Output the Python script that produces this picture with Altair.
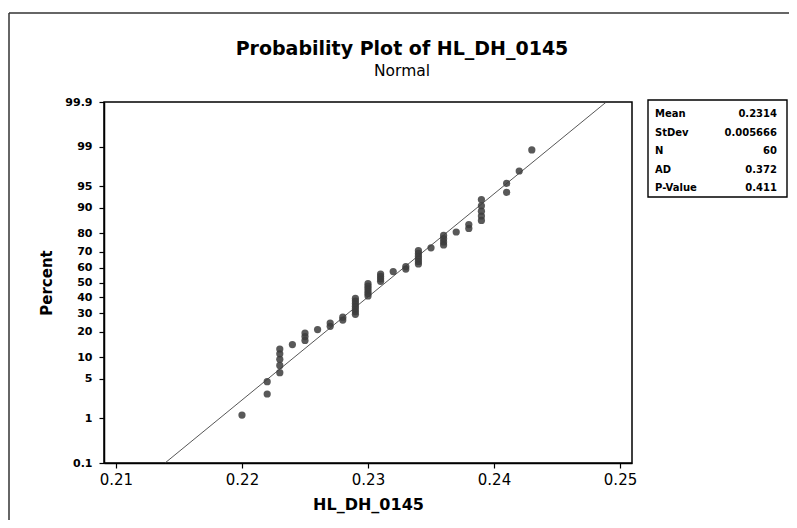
import altair as alt
import pandas as pd
from statistics import NormalDist

# Observed values of HL_DH_0145 (60 readings, sorted)
values = (
    [0.220]
    + [0.222] * 2
    + [0.223] * 5
    + [0.224]
    + [0.225] * 3
    + [0.226]
    + [0.227] * 2
    + [0.228] * 2
    + [0.229] * 7
    + [0.230] * 6
    + [0.231] * 4
    + [0.232]
    + [0.233] * 2
    + [0.234] * 6
    + [0.235]
    + [0.236] * 4
    + [0.237]
    + [0.238] * 2
    + [0.239] * 5
    + [0.241] * 2
    + [0.242]
    + [0.243]
)

MEAN = 0.2314
STDEV = 0.005666

TITLE = "Probability Plot of HL_DH_0145"
SUBTITLE = "Normal"

stat_labels = ["Mean", "StDev", "N", "AD", "P-Value"]
stat_values = ["0.2314", "0.005666", "60", "0.372", "0.411"]

y_tick_percents = [0.1, 1, 5, 10, 20, 30, 40, 50, 60, 70, 80, 90, 95, 99, 99.9]
x_ticks = [0.21, 0.22, 0.23, 0.24, 0.25]
line_percents = [0.1, 99.9]
x_domain = [0.20905, 0.25095]

nd = NormalDist()
z_ticks = [nd.inv_cdf(p / 100) for p in y_tick_percents]
z_domain = [min(z_ticks) - 1e-9, max(z_ticks) + 1e-9]

FONT = "DejaVu Sans"

xscale = alt.Scale(domain=x_domain, nice=False, zero=False)
yscale = alt.Scale(domain=z_domain, nice=False, zero=False)

x_axis = alt.Axis(
    values=x_ticks, tickCount=10, labelExpr="format(datum.value, '~g')",
    title="HL_DH_0145", titleFontSize=16, titleFontWeight="bold",
    titlePadding=9, labelFontSize=15, labelPadding=4, tickSize=5,
    grid=False, labelOverlap=False,
)
y_axis = alt.Axis(
    values=z_ticks, tickCount=30,
    labelExpr="format(round(cumulativeNormal(datum.value)*1000)/10, '~g')",
    title="Percent", titleFontSize=15, titleFontWeight="bold",
    titlePadding=10, labelFontSize=11, labelFontWeight="bold",
    labelPadding=7, tickSize=5, grid=False, labelOverlap=False,
)

pts = (
    alt.Chart(pd.DataFrame({"v": values}))
    .transform_window(rank="row_number()", sort=[alt.SortField("v")])
    .transform_joinaggregate(n="count()")
    .transform_calculate(
        p="(datum.rank - 0.3) / (datum.n + 0.4)",
        z="quantileNormal(datum.p)",
    )
    .mark_circle(size=52, color="#3c3c3c", opacity=0.85)
    .encode(
        x=alt.X("v:Q", scale=xscale, axis=x_axis),
        y=alt.Y("z:Q", scale=yscale, axis=y_axis),
    )
)

fit = (
    alt.Chart(pd.DataFrame({"pct": line_percents}))
    .transform_calculate(
        z="quantileNormal(datum.pct / 100)",
        v=f"{MEAN} + {STDEV} * quantileNormal(datum.pct / 100)",
    )
    .mark_line(color="#444444", strokeWidth=0.9)
    .encode(x=alt.X("v:Q", scale=xscale), y=alt.Y("z:Q", scale=yscale))
)

one = pd.DataFrame({"a": [0]})

title_mark = alt.Chart(one).mark_text(
    fontSize=19, fontWeight="bold", font=FONT, color="black", baseline="middle", align="center"
).encode(x=alt.value(298), y=alt.value(-53), text=alt.value(TITLE))
subtitle_mark = alt.Chart(one).mark_text(
    fontSize=15.5, font=FONT, color="black", baseline="middle", align="center"
).encode(x=alt.value(298), y=alt.value(-31), text=alt.value(SUBTITLE))

box = alt.Chart(one).mark_rect(fill="white", stroke="black", strokeWidth=1.4).encode(
    x=alt.value(544), x2=alt.value(683), y=alt.value(-2), y2=alt.value(95)
)

stats_df = pd.DataFrame({"label": stat_labels, "val": stat_values})
stats_base = (
    alt.Chart(stats_df)
    .transform_window(idx="row_number()")
    .transform_calculate(ypix="12 + (datum.idx - 1) * 18.5")
)
stat_lab = stats_base.mark_text(
    align="left", baseline="middle", fontSize=10, fontWeight="bold", font=FONT, color="black"
).encode(x=alt.value(551), y=alt.Y("ypix:Q", scale=None), text="label:N")
stat_val = stats_base.mark_text(
    align="right", baseline="middle", fontSize=10, fontWeight="bold", font=FONT, color="black"
).encode(x=alt.value(673), y=alt.Y("ypix:Q", scale=None), text="val:N")

frame_top = alt.Chart(one).mark_rule(color="#333333", strokeWidth=1.5).encode(
    x=alt.value(-95), x2=alt.value(700), y=alt.value(-89)
)
frame_left = alt.Chart(one).mark_rule(color="#333333", strokeWidth=1.5).encode(
    x=alt.value(-95), y=alt.value(-89), y2=alt.value(430)
)

chart = (
    alt.layer(frame_top, frame_left, title_mark, subtitle_mark, fit, pts, box, stat_lab, stat_val)
    .properties(
        width=528,
        height=361,
        autosize=alt.AutoSizeParams(type="none"),
        padding={"left": 96, "top": 94, "right": 157, "bottom": 57},
    )
    .configure(font=FONT)
    .configure_view(stroke="black", strokeWidth=1.5)
    .configure_axis(
        domainColor="black", domainWidth=1.5, tickColor="black", tickWidth=1.2,
        labelColor="black", titleColor="black", labelFont=FONT, titleFont=FONT,
    )
)

chart.save("out.html", embed_options={"renderer": "svg", "actions": False})
